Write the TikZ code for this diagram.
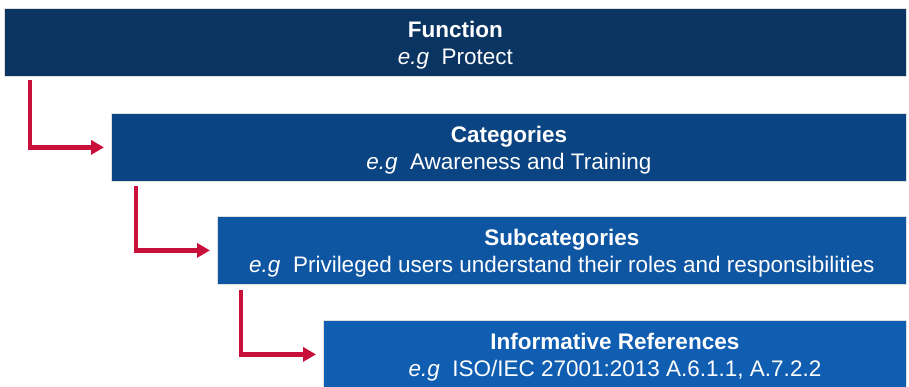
\documentclass[tikz,border=0pt]{standalone}
\usepackage{fontspec}
\setmainfont{Liberation Sans}
\usetikzlibrary{arrows.meta}
\definecolor{lvlone}{RGB}{10,52,98}
\definecolor{lvltwo}{RGB}{11,68,130}
\definecolor{lvlthree}{RGB}{14,85,162}
\definecolor{lvlfour}{RGB}{16,94,178}
\definecolor{arrowred}{RGB}{200,16,58}

\begin{document}
\begin{tikzpicture}[x=1pt,y=-1pt,
  level/.style={draw=gray!25,line width=0.8pt,text=white,anchor=north west,
    minimum height=68pt,inner sep=0pt,align=center,
    font=\fontsize{22.5}{26.5}\selectfont},
  arr/.style={draw=arrowred,line width=4.5pt,
    -{Triangle[length=13pt,width=14pt]},shorten >=7pt}]
\useasboundingbox (0,0) rectangle (909,386);
\node[level,fill=lvlone,minimum width=902pt] (fn) at (4,8)
  {\rule{0pt}{22pt}\textbf{Function}\\\textit{e.g}\ \ Protect};
\node[level,fill=lvltwo,minimum width=795pt] (cat) at (111,113)
  {\rule{0pt}{22pt}\textbf{Categories}\\\textit{e.g}\ \ Awareness and Training};
\node[level,fill=lvlthree,minimum width=689pt] (sub) at (217,216)
  {\rule{0pt}{22pt}\textbf{Subcategories}\\\textit{e.g}\ \ Privileged users understand their roles and responsibilities};
\node[level,fill=lvlfour,minimum width=583pt] (ref) at (323,320)
  {\rule{0pt}{22pt}\textbf{Informative References}\\\textit{e.g}\ \ ISO/IEC 27001:2013 A.6.1.1, A.7.2.2};

\draw[arr] ([shift={(26,3)}]fn.south west) |- (cat.west);
\draw[arr] ([shift={(25,4)}]cat.south west) |- (sub.west);
\draw[arr] ([shift={(24,5)}]sub.south west) |- (ref.west);

\end{tikzpicture}
\end{document}
